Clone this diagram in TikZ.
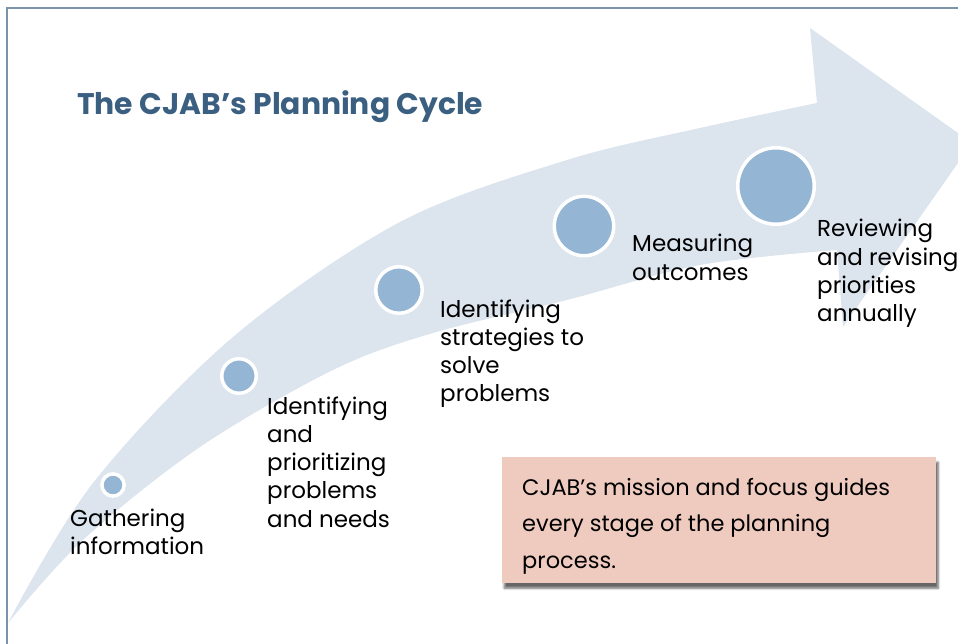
\documentclass[tikz,border=0pt]{standalone}
\usepackage{fontspec}
\setmainfont{Poppins}
\usetikzlibrary{shadows.blur}

\definecolor{bandfill}{HTML}{DCE4EE}
\definecolor{dotfill}{HTML}{94B5D3}
\definecolor{titleblue}{HTML}{3A5F80}
\definecolor{framegray}{HTML}{7B93AB}
\definecolor{notefill}{HTML}{EFCBBF}

% stacked lines whose first baseline is the node's baseline
\newcommand{\linesof}[1]{\begin{tabular}[t]{@{}l@{}}#1\end{tabular}}
\renewcommand{\arraystretch}{1}

\tikzset{
  dot/.style={circle, fill=dotfill, draw=white, line width=3.5pt, inner sep=0pt},
  steplabel/.style={anchor=base west, inner sep=0pt, text=black,
    font=\fontsize{23}{28.3}\selectfont},
  heading/.style={anchor=base west, inner sep=0pt, text=titleblue,
    font=\fontsize{29.8}{32}\selectfont\bfseries},
  notebox/.style={anchor=north west, fill=notefill, inner sep=0pt,
    blur shadow={shadow xshift=2pt, shadow yshift=-5pt, shadow blur steps=6, shadow opacity=60}},
  notetext/.style={anchor=base west, inner sep=0pt, text=black,
    font=\fontsize{22.5}{36.5}\selectfont},
}

\begin{document}
\begin{tikzpicture}[x=1pt, y=-1pt]
  \useasboundingbox (0,0) rectangle (958,644);
  \begin{scope}
    \clip (0,0) rectangle (958,644);
    % the curved band with its arrow head
    \fill[bandfill]
      plot[smooth, tension=0.55] coordinates {(8,623) (93,483) (233,337) (400,222) (567,160) (700,128) (817,103)}
      -- (810,28) -- (972,143) -- (843,327) -- (837,250)
      -- plot[smooth, tension=0.55] coordinates {(837,250) (700,265) (567,300) (433,333) (333,370) (200,447) (83,540) (8,623)}
      -- cycle;
  \end{scope}

  % frame lines
  \draw[framegray, line width=2pt] (7,644) -- (7,8) -- (958,8);

  % title
  \node[heading] (title) at (77,115) {The CJAB’s Planning Cycle};

  % stage markers
  \node[dot, minimum size=22.2pt] (d1) at (113,485) {};
  \node[dot, minimum size=34.5pt] (d2) at (239,376) {};
  \node[dot, minimum size=46.5pt] (d3) at (399,290) {};
  \node[dot, minimum size=59.5pt] (d4) at (584,226) {};
  \node[dot, minimum size=76.5pt] (d5) at (776,186) {};

  % stage labels
  \node[steplabel] (l1) at (70,526) {\linesof{Gathering\\information}};
  \node[steplabel] (l2) at (267,414) {\linesof{Identifying\\and\\prioritizing\\problems\\and needs}};
  \node[steplabel] (l3) at (440,317) {\linesof{Identifying\\strategies to\\solve\\problems}};
  \node[steplabel] (l4) at (632,252) {\linesof{Measuring\\outcomes}};
  \node[steplabel] (l5) at (817,237) {\linesof{Reviewing\\and revising\\priorities\\annually}};

  % note
  \node[notebox, minimum width=434pt, minimum height=126pt] (note) at (502,457) {};
  \node[notetext] (notetxt) at ([xshift=20pt, yshift=-38pt]note.north west)
    {\linesof{CJAB’s mission and focus guides\\every stage of the planning\\process.}};
\end{tikzpicture}
\end{document}
